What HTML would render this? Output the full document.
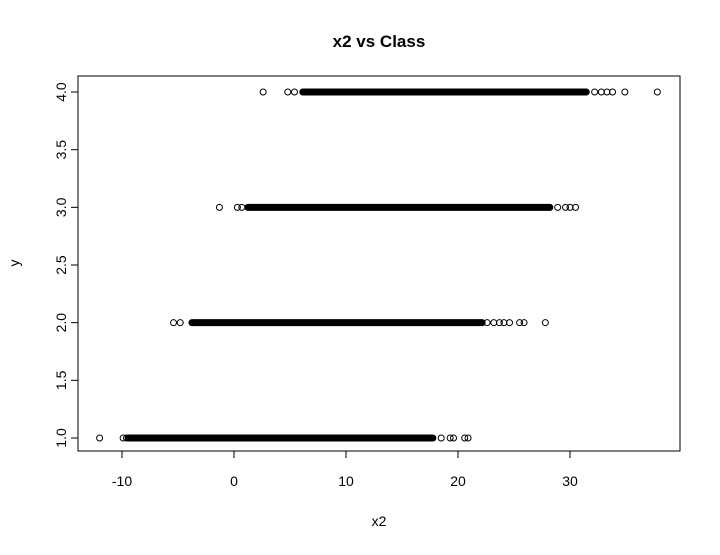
<!DOCTYPE html>
<html><head><meta charset="utf-8"><style>
body{margin:0;background:#fff}
svg text{font-family:"Liberation Sans",Arial,sans-serif;fill:#000}
</style></head><body>
<svg id="chart" width="720" height="550">
<text x="379" y="47" font-size="17" font-weight="bold" text-anchor="middle">x2 vs Class</text>
<rect x="78" y="76" width="602" height="375" fill="none" stroke="#000"/>
<text x="379" y="526" font-size="14" text-anchor="middle">x2</text>
<text x="19" y="263" font-size="14" text-anchor="middle" transform="rotate(-90 19 263)">y</text>
<g id="axes"></g><g id="marks"></g>
</svg>
<script>
const classes=[1,2,3,4];
const denseStart=[-9.5,-3.8,1.2,6.1];
const denseEnd=[17.8,22.2,28.2,31.5];
const outliers=[
 [-12,-9.9,-9.6,18.5,19.3,19.6,20.6,20.9],
 [-5.4,-4.8,22.6,23.2,23.7,24.1,24.6,25.5,25.9,27.8],
 [-1.3,0.3,0.7,28.2,28.9,29.6,30.0,30.5],
 [2.6,4.8,5.4,32.2,32.8,33.3,33.8,34.9,37.8]
];
const xTicks=[-10,0,10,20,30];
const yTicks=[1.0,1.5,2.0,2.5,3.0,3.5,4.0];
const sx=v=>234+11.2*v, sy=v=>438-115.33*(v-1);
const NS="http://www.w3.org/2000/svg";
const ax=document.getElementById('axes'), mk=document.getElementById('marks');
function el(t,a,p){const e=document.createElementNS(NS,t);for(const k in a)e.setAttribute(k,a[k]);p.appendChild(e);return e;}
let l=el('line',{x1:sx(-10),x2:sx(30),y1:451,y2:451,stroke:'#000'},ax);


l=el('line',{x1:78,x2:78,y1:sy(1),y2:sy(4),stroke:'#000'},ax);


xTicks.forEach(t=>{
 const k=el('line',{x1:sx(t),x2:sx(t),y1:451,y2:458,stroke:'#000'},ax);
 
 
 const tx=el('text',{x:sx(t),y:486,'font-size':14,'text-anchor':'middle'},ax);tx.textContent=t;
 
 
});
yTicks.forEach(t=>{
 const k=el('line',{x1:71,x2:78,y1:sy(t),y2:sy(t),stroke:'#000'},ax);
 
 
 const tx=el('text',{x:66,y:sy(t),'font-size':14,'text-anchor':'middle',transform:`rotate(-90 66 ${sy(t)})`},ax);tx.textContent=t.toFixed(1);
 
 
});
classes.forEach((c,i)=>{
 const y=sy(c);
 const b=el('rect',{x:sx(denseStart[i])-3,y:y-3.5,width:sx(denseEnd[i])-sx(denseStart[i])+6,height:7,rx:3.5,fill:'#000'},mk);
 
 
 outliers[i].forEach(v=>{
  const p=el('circle',{cx:sx(v),cy:y,r:3,fill:'none',stroke:'#000','stroke-width':1},mk);
  
  
 });
});
</script>
</body></html>
